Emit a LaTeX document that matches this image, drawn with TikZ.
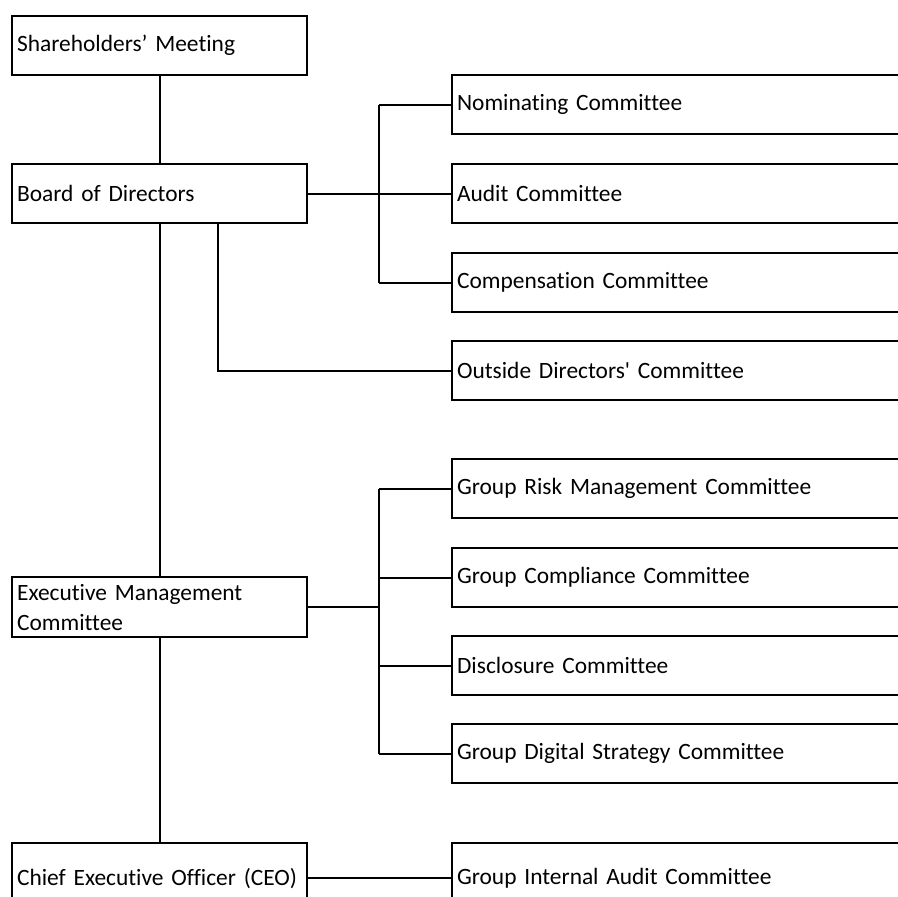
\documentclass[tikz,border=0pt]{standalone}
\usepackage{fontspec}
\setmainfont{Carlito}[Ligatures={NoCommon}]
\begin{document}
\begin{tikzpicture}[x=1pt,y=-1pt,
  box/.style={draw=black, line width=2.2pt, anchor=north west, inner xsep=5pt, inner ysep=0pt,
    align=left, font=\fontsize{23.4}{30}\selectfont, minimum height=59pt},
  leftbox/.style={box, text width=285pt},
  rightbox/.style={box, text width=490pt},
  link/.style={draw=black, line width=2.2pt}]
\clip (0,0) rectangle (898,897);
\fill[white] (0,0) rectangle (898,897);

% left column
\node[leftbox] (sh)   at (11,15)  {Shareholders’ Meeting};
\node[leftbox] (bod)  at (11,163) {Board of Directors};
\node[leftbox, minimum height=60pt] (emc) at (11,576) {Executive Management\\Committee};
\node[leftbox, minimum height=70pt] (ceo) at (11,842) {Chief Executive Officer (CEO)};

% right column
\node[rightbox] (nom)  at (451,74)  {Nominating Committee};
\node[rightbox] (aud)  at (451,163) {Audit Committee};
\node[rightbox] (comp) at (451,252) {Compensation Committee};
\node[rightbox] (odc)  at (451,340) {Outside Directors\textquotesingle{} Committee};
\node[rightbox] (risk) at (451,458) {Group Risk Management Committee};
\node[rightbox] (comply) at (451,547) {Group Compliance Committee};
\node[rightbox] (disc) at (451,635) {Disclosure Committee};
\node[rightbox] (dig)  at (451,723) {Group Digital Strategy Committee};
\node[rightbox, minimum height=70pt] (gia) at (451,842) {Group Internal Audit Committee};

% bus lines
\coordinate (busA) at (379,0);
\coordinate (odcdrop) at (218,0);

% main spine
\draw[link] (sh.south) -- (bod.north);
\draw[link] (bod.south) -- (emc.north);
\draw[link] (emc.south) -- (ceo.north);

% board committees
\draw[link] (bod.east) -- (aud.west);
\draw[link] (busA |- nom.west) -- (busA |- comp.west);
\draw[link] (busA |- nom.west) -- (nom.west);
\draw[link] (busA |- comp.west) -- (comp.west);
\draw[link] (odcdrop |- bod.south) -- (odcdrop |- odc.west) -- (odc.west);

% executive committees
\draw[link] (emc.east) -- (busA |- emc.east);
\draw[link] (busA |- risk.west) -- (busA |- dig.west);
\draw[link] (busA |- risk.west) -- (risk.west);
\draw[link] (busA |- comply.west) -- (comply.west);
\draw[link] (busA |- disc.west) -- (disc.west);
\draw[link] (busA |- dig.west) -- (dig.west);

% CEO
\draw[link] (ceo.east) -- (gia.west);
\end{tikzpicture}
\end{document}
